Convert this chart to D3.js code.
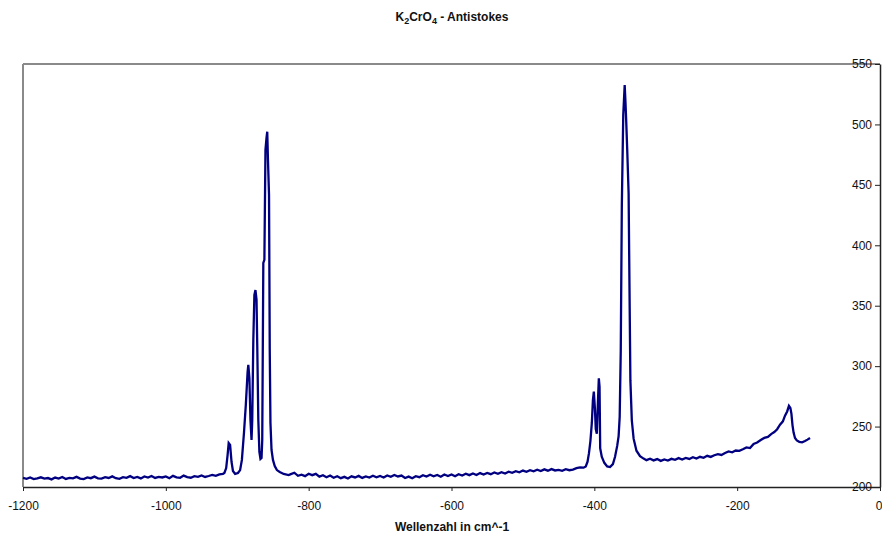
<!DOCTYPE html>
<html>
<head>
<meta charset="utf-8">
<script src="https://cdn.jsdelivr.net/npm/d3@7"></script>
<style>
  body { margin: 0; background: #fff; }
  svg text { font-family: "Liberation Sans", Arial, sans-serif; fill: #111; }
</style>
</head>
<body>
<div id="chart"></div>
<script>
// spectrum, [wavenumber, counts]
var baseLow = [
  [-1200,207.5],[-1195,206.8],[-1190,207.9],[-1185,206.5],[-1180,207.2],[-1175,208.0],[-1170,206.9],
  [-1165,207.4],[-1160,206.3],[-1155,207.8],[-1150,207.0],[-1145,208.3],[-1140,206.7],[-1135,207.6],
  [-1130,207.1],[-1125,208.4],[-1120,207.0],[-1115,206.6],[-1110,207.9],[-1105,207.3],[-1100,208.6],
  [-1095,207.2],[-1090,206.9],[-1085,208.1],[-1080,207.5],[-1075,208.8],[-1070,207.3],[-1065,206.8],
  [-1060,208.2],[-1055,207.6],[-1050,209.0],[-1045,207.4],[-1040,208.3],[-1035,207.1],[-1030,208.7],
  [-1025,207.8],[-1020,209.1],[-1015,207.5],[-1010,208.4],[-1005,207.9],[-1000,208.8],[-995,207.3],
  [-990,209.2],[-985,208.0],[-980,207.6],[-975,209.4],[-970,208.2],[-965,207.7],[-960,209.0],
  [-955,208.4],[-950,209.6],[-945,208.3],[-940,209.1],[-935,210.0],[-930,209.2],[-925,210.4],[-920,210.9]
];

var bandA = [
  [-918,211.6],[-915.5,215.7],[-913.5,226.5],[-912,236.4],[-910,234.8],[-908,220.7],[-906,213.2],
  [-903,210.8],[-899,211.6],[-896,214],[-893.5,222.4],[-890.5,245.5],[-888,267.9],[-885.5,295.2],
  [-884.5,301],[-883,290.2],[-881.5,255.5],[-880,238.9],[-879,255.5],[-877.5,321.7],[-876,359],
  [-874.5,363],[-873,354.8],[-872,317.5],[-870.5,255.5],[-869,229],[-867.5,223.2],[-866,224],
  [-865,238.9],[-863.5,385.4],[-862,388],[-860.5,479],[-859,489],[-858,494],[-857,470.7],
  [-855.5,441.7],[-854.5,313.4],[-853.5,253],[-852,230.6],[-850,222.4],[-847.5,217.4],
  [-844.5,214],[-840.5,212.4],[-835,210.8],[-828,209.9]
];

var baseMid = [
  [-825,210.6],[-820,211.8],[-815,209.3],[-810,210.2],[-805,209.0],[-800,211.0],[-795,209.8],
  [-790,210.9],[-785,208.6],[-780,209.7],[-775,208.1],[-770,209.5],[-765,207.6],[-760,208.9],
  [-755,207.3],[-750,208.4],[-745,207.0],[-740,208.8],[-735,207.9],[-730,209.2],[-725,207.5],
  [-720,208.7],[-715,207.8],[-710,209.3],[-705,208.0],[-700,209.1],[-695,207.9],[-690,209.6],
  [-685,208.5],[-680,210.0],[-675,208.7],[-670,209.5],[-665,207.4],[-660,208.6],[-655,207.2],
  [-650,208.9],[-645,208.1],[-640,209.8],[-635,208.6],[-630,210.1],[-625,208.8],[-620,209.9],
  [-615,208.5],[-610,210.3],[-605,209.1],[-600,210.4],[-595,208.9],[-590,210.6],[-585,209.5],
  [-580,211.0],[-575,209.8],[-570,211.2],[-565,209.9],[-560,211.5],[-555,210.3],[-550,211.6],
  [-545,210.6],[-540,212.0],[-535,210.9],[-530,212.3],[-525,211.2],[-520,212.7],[-515,211.8],
  [-510,213.1],[-505,212.2],[-500,213.6],[-495,212.6],[-490,213.9],[-485,213.0],[-480,214.3],
  [-475,213.2],[-470,214.6],[-465,213.5],[-460,214.8],[-455,213.7],[-450,214.2],[-445,213.4],
  [-440,214.7],[-435,213.9],[-430,214.4],[-425,215.6],[-420,216.3],[-415,216.0],[-412,217.0]
];

var bandB = [
  [-409.5,221],[-407.5,228],[-405.5,238],[-403.5,253],[-402,272],[-400.7,279],[-399.2,265],
  [-398,248],[-396.5,244],[-395,270],[-393.7,290],[-392.7,283],[-391.8,232],[-389.6,225],
  [-386,220],[-382,217],[-378,216.5],[-374,219],[-371,225],[-368,234],[-366,242],[-364.5,258],
  [-363,313],[-361.5,433],[-359.5,508],[-357.5,532.5],[-356.5,520],[-355.5,505],[-354,480],
  [-352,443],[-350.5,348],[-349.5,288],[-347.5,255],[-345,240],[-341,230],[-336,225.5],
  [-331,223.5],[-327,222.2]
];

var tail = [
  [-322,223.4],[-317,222.0],[-312,223.1],[-307,221.6],[-302,222.8],[-297,221.9],[-292,223.3],
  [-287,222.5],[-282,223.9],[-277,222.7],[-272,224.0],[-267,223.2],[-262,224.6],[-257,223.5],
  [-252,225.0],[-247,224.2],[-242,225.8],[-237,224.9],[-232,226.3],[-227,227.2],[-222,226.5],
  [-217,228.1],[-212,229.4],[-207,228.7],[-202,230.2],[-197,229.9],[-192,231.3],[-187,232.8],
  [-182,232.2],[-177,235.6],[-172,236.8],[-167,238.9],[-162,240.6],[-157,241.5],[-152,244.0],
  [-148,245.5],[-144,247.8],[-140,251.6],[-136,254.3],[-133,259.0],[-130,262.5],[-127.5,267.2],
  [-125.5,265.5],[-124,260.5],[-122.5,251],[-121,245],[-119,240.5],[-116.5,238.5],[-113,237.4],
  [-109,237.0],[-105,238.0],[-101.5,239.2],[-98,240.6]
];

var xTicks = [-1200, -1000, -800, -600, -400, -200, 0];
var yTicks = [200, 250, 300, 350, 400, 450, 500, 550];

var spectrum = baseLow.concat(bandA, baseMid, bandB, tail);

var width = 882, height = 535;
var plotLeft = 23, plotRight = 880, plotTop = 64, plotBottom = 487;

var svg = d3.select("#chart").append("svg")
    .attr("width", width)
    .attr("height", height);

var x = d3.scaleLinear().domain([-1200, 0]).range([plotLeft, plotRight]);
var y = d3.scaleLinear().domain([200, 550]).range([plotBottom, plotTop]);

// plot area frame (grey top + left)
svg.append("line")
    .attr("x1", plotLeft).attr("y1", plotTop).attr("x2", plotRight).attr("y2", plotTop)
    .style("stroke", "#8a8a8a").style("stroke-width", "2px");
svg.append("line")
    .attr("x1", plotLeft).attr("y1", plotTop).attr("x2", plotLeft).attr("y2", plotBottom)
    .style("stroke", "#8a8a8a").style("stroke-width", "2px");

var xAxis = svg.append("g")
    .attr("transform", "translate(0," + plotBottom + ")")
    .call(d3.axisBottom(x).tickValues(xTicks).tickSize(4).tickSizeOuter(0).tickPadding(10)
        .tickFormat(function(d){ return String(d); }));

var yAxis = svg.append("g")
    .attr("transform", "translate(" + plotRight + ",0)")
    .call(d3.axisLeft(y).tickValues(yTicks).tickSize(5).tickSizeOuter(0).tickPadding(3)
        .tickFormat(function(d){ return String(d); }));

[xAxis, yAxis].forEach(function(g){
    g.select(".domain").style("stroke", "#222").style("stroke-width", "1.5px");
    g.selectAll(".tick line").style("stroke", "#222");
    g.selectAll(".tick text")
        .style("font-family", "'Liberation Sans', Arial, sans-serif")
        .style("font-size", "12px")
        .style("fill", "#111");
});

// the "0" sits on the right edge; keep it inside the window
xAxis.selectAll(".tick text")
    .filter(function(d){ return d === 0; })
    .attr("text-anchor", "end")
    .attr("x", 2);

var line = d3.line()
    .x(function(d){ return x(d[0]); })
    .y(function(d){ return y(d[1]); });

svg.append("path")
    .datum(spectrum)
    .attr("d", line)
    .style("fill", "none")
    .style("stroke", "#000080")
    .style("stroke-width", "2.3px")
    .style("stroke-linejoin", "miter");

// title with subscripts
var title = svg.append("text")
    .attr("x", 452).attr("y", 21)
    .attr("text-anchor", "middle")
    .style("font-size", "12px")
    .style("font-weight", "bold");
title.append("tspan").text("K");
title.append("tspan").attr("dy", 3).style("font-size", "9px").text("2");
title.append("tspan").attr("dy", -3).text("CrO");
title.append("tspan").attr("dy", 3).style("font-size", "9px").text("4");
title.append("tspan").attr("dy", -3).text(" - Antistokes");

svg.append("text")
    .attr("x", 452).attr("y", 531)
    .attr("text-anchor", "middle")
    .style("font-size", "12px")
    .style("font-weight", "bold")
    .text("Wellenzahl in cm^-1");
</script>
</body>
</html>
